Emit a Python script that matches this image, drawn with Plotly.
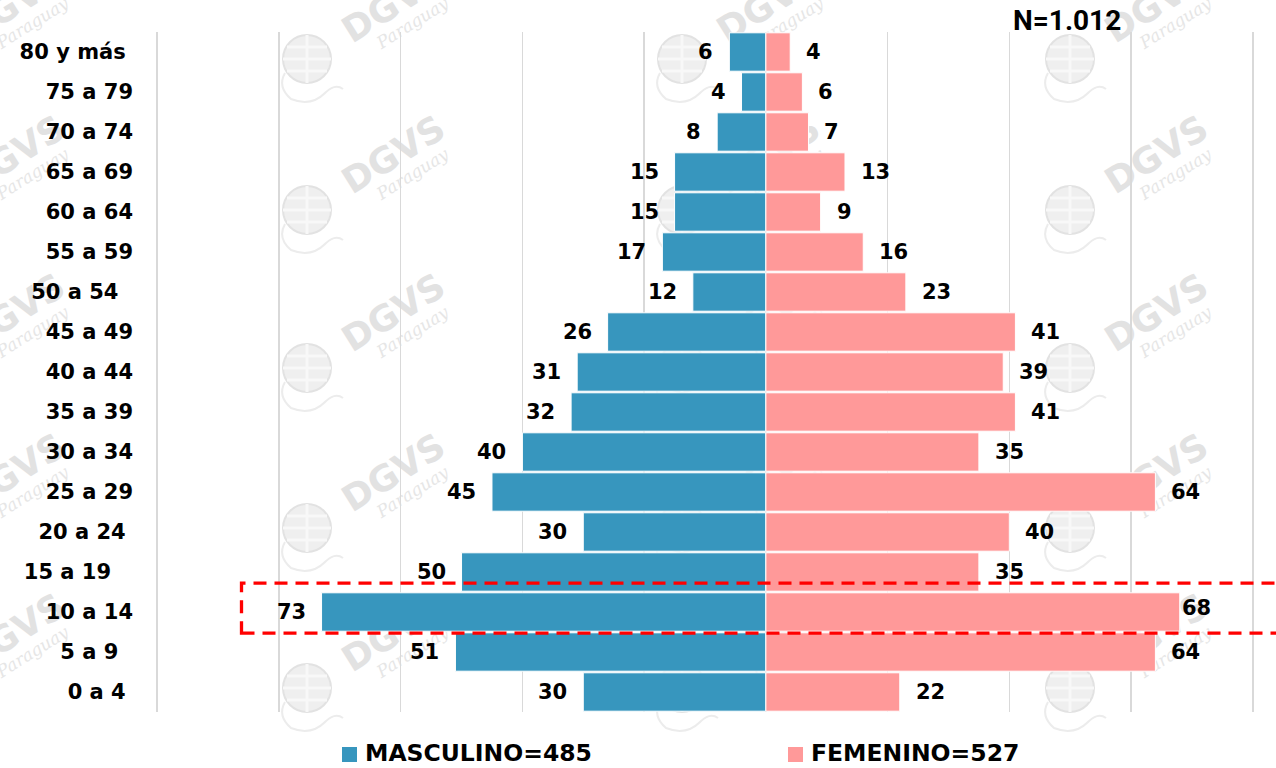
import base64
import plotly.graph_objects as go

# ---------------- data ----------------
age_groups = ["0 a 4", "5 a 9", "10 a 14", "15 a 19", "20 a 24", "25 a 29",
              "30 a 34", "35 a 39", "40 a 44", "45 a 49", "50 a 54", "55 a 59",
              "60 a 64", "65 a 69", "70 a 74", "75 a 79", "80 y más"]
masculino = [30, 51, 73, 50, 30, 45, 40, 32, 31, 26, 12, 17, 15, 15, 8, 4, 6]
femenino = [22, 64, 68, 35, 40, 64, 35, 41, 39, 41, 23, 16, 9, 13, 7, 6, 4]
total_masculino = 485
total_femenino = 527
total_n = "1.012"
grid_values = [-100, -80, -60, -40, -20, 0, 20, 40, 60, 80]
highlight_group = "10 a 14"

# ---------------- style / geometry ----------------
W, H = 1276, 768
ML, MR, MT, MB = 156, 22, 32, 56
PW, PH = W - ML - MR, H - MT - MB
BLUE = "#3796be"
PINK = "#ff9999"
FONT = "DejaVu Sans"
label_pad = {"80 y más": 1, "50 a 54": 2, "20 a 24": 1, "15 a 19": 3, "5 a 9": 2, "0 a 4": 1}


def pxx(xp):
    return (xp - ML) / PW


def pxy(yp):
    return (H - MB - yp) / PH


# ---------------- watermark (background image) ----------------
wm_cols = [20, 400, 775, 1163]
wm_rows = [14, 165, 323, 483, 643]
parts = []
for cx in wm_cols:
    for cy in wm_rows:
        gx, gy = cx - 93, cy + 45
        parts.append(
            f'<circle cx="{gx}" cy="{gy}" r="24" fill="#efefef" stroke="#e2e2e2" stroke-width="2"/>'
            f'<path d="M{gx-24},{gy} H{gx+24} M{gx},{gy-24} V{gy+24} M{gx-20},{gy-12} H{gx+20} M{gx-20},{gy+12} H{gx+20}" stroke="#f8f8f8" stroke-width="3"/>'
            f'<path d="M{gx-22},{gy+14} q-8,14 6,26 q20,8 34,-6 q10,-10 18,-4" fill="none" stroke="#ececec" stroke-width="2"/>'
            f'<g transform="translate({cx},{cy}) rotate(-32)">'
            f'<text x="0" y="0" text-anchor="middle" font-family="DejaVu Sans" font-weight="bold" '
            f'font-size="36" fill="#e2e2e2">DGVS</text>'
            f'<text x="6" y="20" text-anchor="middle" font-family="DejaVu Serif" font-style="italic" '
            f'font-size="17" fill="#e6e6e6">Paraguay</text></g>'
        )
svg = (f'<svg xmlns="http://www.w3.org/2000/svg" width="{W}" height="{H}" viewBox="0 0 {W} {H}">'
       + "".join(parts) + "</svg>")
svg_uri = "data:image/svg+xml;base64," + base64.b64encode(svg.encode("utf-8")).decode("ascii")

# ---------------- figure ----------------
fig = go.Figure()
fig.add_trace(go.Bar(
    y=age_groups, x=[-v for v in masculino], orientation="h",
    marker=dict(color=BLUE, line=dict(color="white", width=1)),
    name=f"MASCULINO={total_masculino}", hoverinfo="skip",
))
fig.add_trace(go.Bar(
    y=age_groups, x=femenino, orientation="h",
    marker=dict(color=PINK, line=dict(color="white", width=1)),
    name=f"FEMENINO={total_femenino}", hoverinfo="skip",
))

annotations = []
for g, v in zip(age_groups, masculino):
    annotations.append(dict(x=-v, y=g, xref="x", yref="y", text=f"<b>{v}</b>",
                            showarrow=False, xanchor="right", yanchor="middle", xshift=-14,
                            font=dict(family=FONT, size=21, color="black")))
for g, v in zip(age_groups, femenino):
    special = g == highlight_group
    annotations.append(dict(x=v, y=g, xref="x", yref="y", text=f"<b>{v}</b>",
                            showarrow=False, xanchor="left", yanchor="middle",
                            xshift=0 if special else 14, yshift=4 if special else 0,
                            font=dict(family=FONT, size=21, color="black")))

# N total
annotations.append(dict(x=pxx(1011), y=pxy(20), xref="paper", yref="paper",
                        text=f"<b>N={total_n}</b>", showarrow=False,
                        xanchor="left", yanchor="middle",
                        font=dict(family="Roboto", size=28, color="black")))

# manual legend
shapes = []
legend_items = [(f"MASCULINO={total_masculino}", BLUE, 342), (f"FEMENINO={total_femenino}", PINK, 788)]
for text, col, x0 in legend_items:
    shapes.append(dict(type="rect", xref="paper", yref="paper",
                       x0=pxx(x0), x1=pxx(x0 + 15), y0=pxy(762), y1=pxy(747),
                       fillcolor=col, line=dict(width=0)))
    annotations.append(dict(x=pxx(x0 + 21), y=pxy(753), xref="paper", yref="paper",
                            text=f"<b>{text}</b>", showarrow=False,
                            xanchor="left", yanchor="middle",
                            font=dict(family=FONT, size=23.5, color="black")))

# highlight rectangle around the 10 a 14 row
hi = age_groups.index(highlight_group)
n = len(age_groups)
shapes.append(dict(type="rect", xref="paper", yref="paper",
                   x0=pxx(241.5), x1=pxx(1300),
                   y0=(hi + 0.5 - 0.53) / n, y1=(hi + 0.5 + 0.72) / n,
                   line=dict(color="#ff0000", width=3.3, dash="13px,8px"),
                   fillcolor="rgba(0,0,0,0)"))

fig.update_layout(
    width=W, height=H,
    margin=dict(l=ML, r=MR, t=MT, b=MB),
    paper_bgcolor="white", plot_bgcolor="rgba(0,0,0,0)",
    barmode="overlay", bargap=0.04,
    showlegend=False,
    annotations=annotations,
    shapes=shapes,
    images=[dict(source=svg_uri, xref="paper", yref="paper",
                 x=-ML / PW, y=1 + MT / PH, sizex=W / PW, sizey=H / PH,
                 xanchor="left", yanchor="top", sizing="stretch", layer="below")],
    xaxis=dict(range=[-100.2, 80.2], tickvals=grid_values, showticklabels=False,
               showgrid=True, gridcolor="#d9d9d9", gridwidth=1.5,
               zeroline=False, showline=False, fixedrange=True),
    yaxis=dict(type="category", categoryorder="array", categoryarray=age_groups,
               range=[-0.5, n - 0.5],
               tickvals=age_groups,
               ticktext=[f"<b>{g}{chr(160) * label_pad.get(g, 0)}</b>" for g in age_groups],
               tickfont=dict(family=FONT, size=21, color="black"),
               ticks="", ticklabelstandoff=22, showgrid=False, zeroline=False,
               showline=False, fixedrange=True),
)

fig.write_html("out.html",
               config={"displayModeBar": False, "staticPlot": True},
               post_script="document.body.style.margin='0';document.body.style.overflow='hidden';")
